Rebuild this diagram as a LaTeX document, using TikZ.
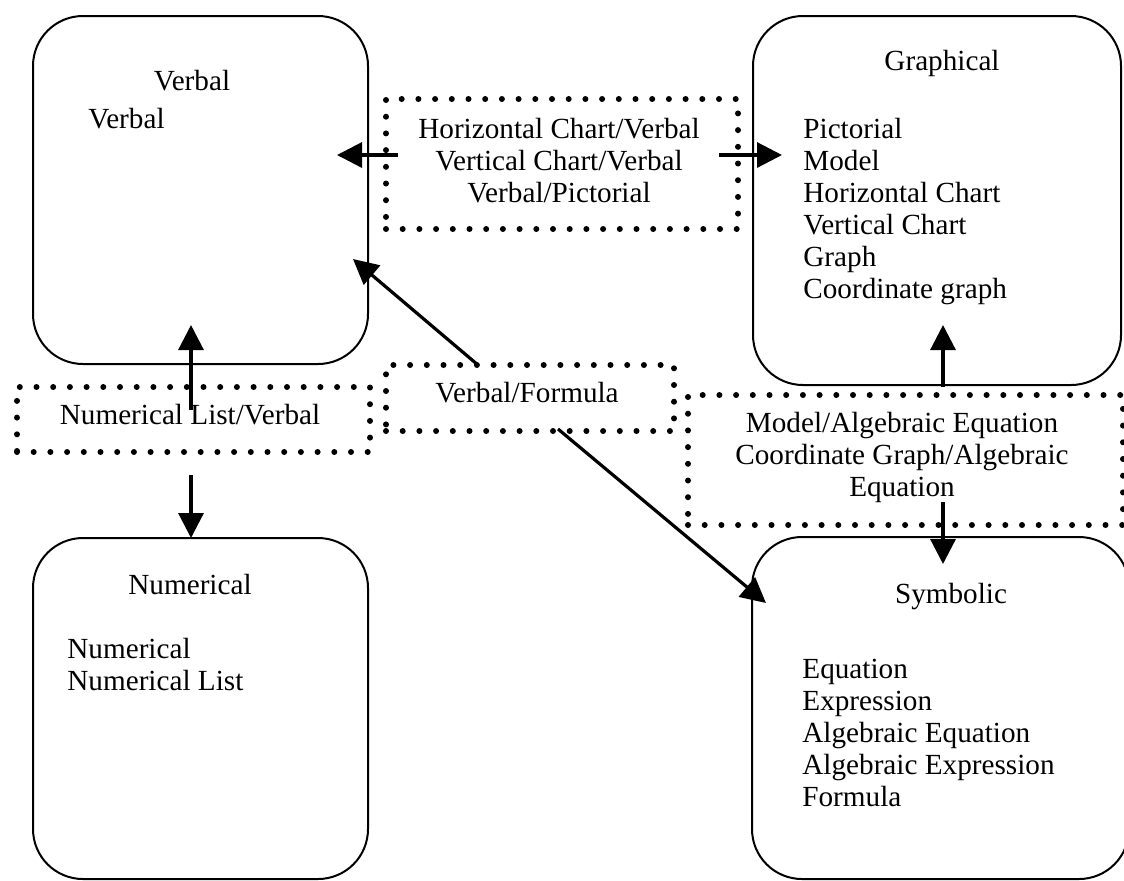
\documentclass[tikz,border=0pt]{standalone}
\usepackage{fontspec}
\setmainfont{Liberation Serif}
\usetikzlibrary{arrows.meta}

\begin{document}
\begin{tikzpicture}[x=0.5pt,y=-0.5pt,
        font=\fontsize{14.6}{16}\selectfont,
        repbox/.style={draw, line width=1pt, rounded corners=25pt, anchor=north west, inner sep=0pt},
        linkbox/.style={draw, line width=3pt, line cap=round, dash pattern=on 0pt off 8.35pt, anchor=north west, inner sep=0pt},
        linktext/.style={align=center, inner sep=0pt},
        listtext/.style={align=left, anchor=north west, inner sep=0pt},
        arr/.style={line width=1.6pt, -{Triangle[length=12.5pt,width=12.5pt]}}]
    \useasboundingbox (0,0) rectangle (1124,880);
    \clip (0,0) rectangle (1124,880);

    % the four representations
    \node[repbox, minimum width=167.5pt, minimum height=174pt] (verbal) at (32,15) {};
    \node[repbox, minimum width=184pt, minimum height=184.5pt] (graphical) at (752,15) {};
    \node[repbox, minimum width=167.5pt, minimum height=170.5pt] (numerical) at (32,537) {};
    \node[repbox, minimum width=188.5pt, minimum height=171pt] (symbolic) at (751,536) {};

    \node[anchor=base] (verbalT) at (192,90) {Verbal};
    \node[listtext] (verbalL) at (88,108) {Verbal};
    \node[anchor=base] (graphicalT) at (942,70) {Graphical};
    \node[listtext] (graphicalL) at (803,118) {Pictorial\\Model\\Horizontal Chart\\Vertical Chart\\Graph\\Coordinate graph};
    \node[anchor=base] (numericalT) at (190,594) {Numerical};
    \node[listtext] (numericalL) at (67,638) {Numerical\\Numerical List};
    \node[anchor=base] (symbolicT) at (951,603) {Symbolic};
    \node[listtext] (symbolicL) at (802,659) {Equation\\Expression\\Algebraic Equation\\Algebraic Expression\\Formula};

    % translations between them
    \node[linkbox, minimum width=176pt, minimum height=65pt] (hv) at (383,96) {};
    \node[linktext] (hvT) at (559,161) {Horizontal Chart/Verbal\\Vertical Chart/Verbal\\Verbal/Pictorial};
    \node[linkbox, minimum width=176.5pt, minimum height=32.5pt] (nl) at (14,384) {};
    \node[linktext] (nlT) at (190,415) {Numerical List/Verbal};
    \node[linkbox, minimum width=144pt, minimum height=33pt] (vf) at (383,362) {};
    \node[linktext] (vfT) at (527,393) {Verbal/Formula};
    \node[linkbox, minimum width=217.5pt, minimum height=65pt] (ma) at (685,392) {};
    \node[linktext] (maT) at (902,457) {Model/Algebraic Equation\\Coordinate Graph/Algebraic\\Equation};

    % arrows
    \coordinate (hvL) at (398,155);
    \coordinate (verbalR) at (337,155);
    \coordinate (hvR) at (719,155);
    \coordinate (graphicalL) at (782,155);
    \coordinate (nlUp) at (191,410);
    \coordinate (verbalB) at (191,325);
    \coordinate (nlDown) at (191,475);
    \coordinate (numericalN) at (191,538);
    \coordinate (vfUp) at (478,365);
    \coordinate (verbalC) at (353,259);
    \coordinate (vfDown) at (558,429);
    \coordinate (symbolicW) at (766,603);
    \coordinate (maUp) at (943,387);
    \coordinate (graphicalB) at (943,325);
    \coordinate (maDown) at (943,502);
    \coordinate (symbolicN) at (943,564);

    \draw[arr] (hvL) -- (verbalR);
    \draw[arr] (hvR) -- (graphicalL);
    \draw[arr] (nlUp) -- (verbalB);
    \draw[arr] (nlDown) -- (numericalN);
    \draw[arr] (vfUp) -- (verbalC);
    \draw[arr] (vfDown) -- (symbolicW);
    \draw[arr] (maUp) -- (graphicalB);
    \draw[arr] (maDown) -- (symbolicN);
\end{tikzpicture}
\end{document}
